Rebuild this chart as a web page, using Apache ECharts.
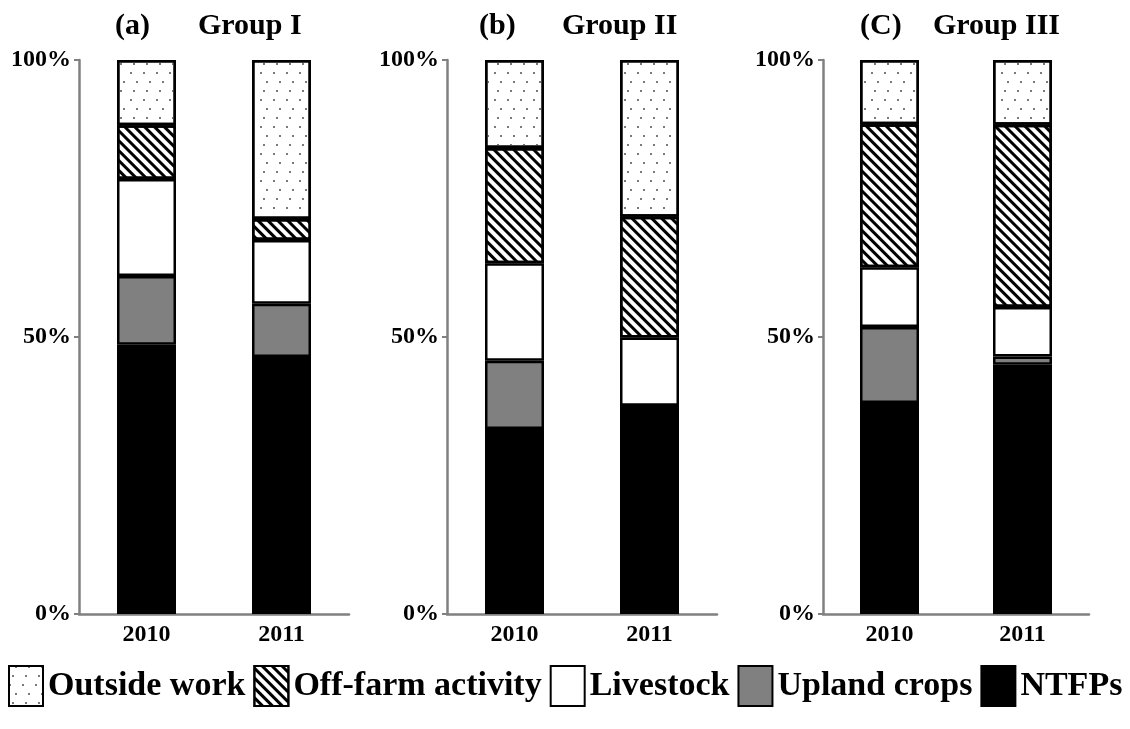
<!DOCTYPE html>
<html>
<head>
<meta charset="utf-8">
<script src="https://cdn.jsdelivr.net/npm/echarts@6/dist/echarts.min.js"></script>
<style>html,body{margin:0;padding:0;background:#fff;}#chart{width:1130px;height:729px;}</style>
</head>
<body>
<div id="chart"></div>
<script>
// Categories and tick labels
const years = ['2010', '2011'];
const panelLabels = ['(a)', '(b)', '(C)'];
const groupNames = ['Group I', 'Group II', 'Group III'];
const seriesNames = ['Outside work', 'Off-farm activity', 'Livestock', 'Upland crops', 'NTFPs'];

// Values (% of income), per group [2010, 2011]
const ntfps       = [[48.6, 46.4], [33.4, 37.6], [38.1, 45.0]];
const uplandCrops = [[12.4, 9.6],  [12.3, 0.0],  [13.7, 1.5]];
const livestock   = [[17.5, 11.5], [17.6, 12.3], [10.8, 8.9]];
const offFarm     = [[9.7, 3.8],   [20.8, 21.8], [25.8, 32.9]];
const outsideWork = [[11.8, 28.7], [15.9, 28.3], [11.6, 11.7]];

const FONT = 'Liberation Serif';
const gridLefts = [79, 447, 823];
const gridWidths = [270, 270, 266];

const dotDecal = {
  symbol: 'rect', symbolSize: 1, color: '#7a7a7a',
  dashArrayX: [[2, 11], [0, 6, 2, 5], [0, 3, 2, 8]], dashArrayY: [2, 7], rotation: 0
};
const stripeDecal = {
  symbol: 'rect', symbolSize: 1, color: '#000',
  dashArrayX: [1, 0], dashArrayY: [3, 4], rotation: Math.PI / 4
};

const styles = {
  'NTFPs': { color: '#000000' },
  'Upland crops': { color: '#808080' },
  'Livestock': { color: '#ffffff' },
  'Off-farm activity': { color: '#ffffff', decal: stripeDecal },
  'Outside work': { color: '#ffffff', decal: dotDecal }
};
const dataByName = {
  'NTFPs': ntfps, 'Upland crops': uplandCrops, 'Livestock': livestock,
  'Off-farm activity': offFarm, 'Outside work': outsideWork
};
const stackOrder = ['NTFPs', 'Upland crops', 'Livestock', 'Off-farm activity', 'Outside work'];

const grids = [], xAxes = [], yAxes = [], series = [], titles = [];
for (let g = 0; g < 3; g++) {
  grids.push({ left: gridLefts[g], width: gridWidths[g], top: 60, bottom: 115 });
  xAxes.push({
    type: 'category', gridIndex: g, data: years,
    axisLine: { lineStyle: { color: '#808080', width: 2.5 } },
    axisTick: { show: false },
    axisLabel: { color: '#000', fontFamily: FONT, fontWeight: 'bold', fontSize: 24, margin: 9 }
  });
  yAxes.push({
    type: 'value', gridIndex: g, min: 0, max: 100, interval: 50,
    axisLine: { show: true, lineStyle: { color: '#808080', width: 2.5 } },
    axisTick: { show: true, length: 5, lineStyle: { color: '#808080', width: 2 } },
    splitLine: { show: false },
    axisLabel: { color: '#000', fontFamily: FONT, fontWeight: 'bold', fontSize: 24, margin: 8, formatter: '{value}%' }
  });
  stackOrder.forEach(name => {
    series.push({
      name: name, type: 'bar', stack: 'g' + g, xAxisIndex: g, yAxisIndex: g,
      barWidth: 59,
      data: dataByName[name][g],
      itemStyle: Object.assign({ borderColor: '#000', borderWidth: 2.5 }, styles[name]),
      emphasis: { disabled: true }
    });
  });
}
titles.push(
  { text: panelLabels[0], left: 110, top: 6 },
  { text: groupNames[0], left: 193, top: 6 },
  { text: panelLabels[1], left: 474, top: 6 },
  { text: groupNames[1], left: 557, top: 6 },
  { text: panelLabels[2], left: 855, top: 6 },
  { text: groupNames[2], left: 928, top: 6 }
);
titles.forEach(t => t.textStyle = { fontFamily: FONT, fontWeight: 'bold', fontSize: 30, color: '#000' });

const chart = echarts.init(document.getElementById('chart'), null, { renderer: 'canvas' });
chart.setOption({
  backgroundColor: '#fff',
  animation: false,
  title: titles,
  grid: grids,
  xAxis: xAxes,
  yAxis: yAxes,
  legend: {
    data: seriesNames,
    left: 3, top: 660,
    itemWidth: 34, itemHeight: 40, itemGap: 8,
    icon: 'rect',
    selectedMode: false,
    textStyle: { fontFamily: FONT, fontWeight: 'bold', fontSize: 34, color: '#000' }
  },
  series: series
});
</script>
</body>
</html>
